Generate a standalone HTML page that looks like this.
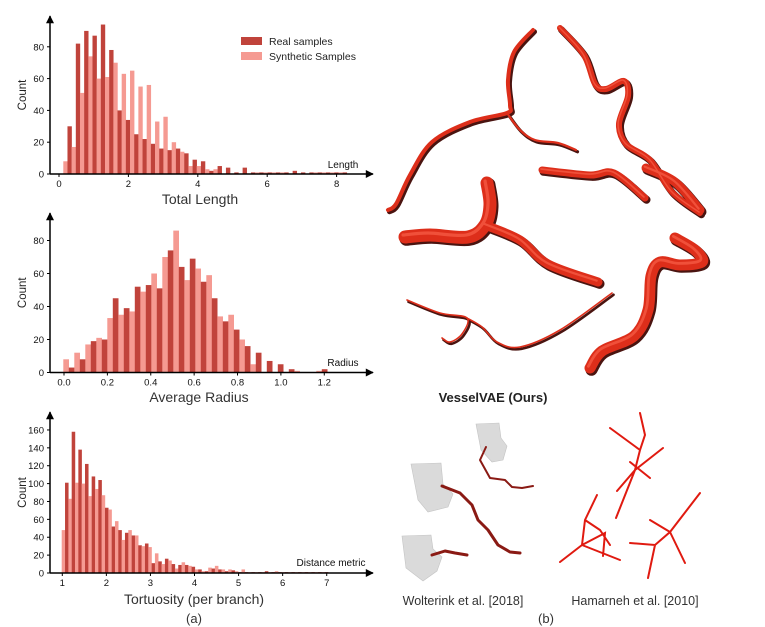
<!DOCTYPE html>
<html><head><meta charset="utf-8"><style>
html,body{margin:0;padding:0;background:#fff;}
svg{display:block;font-family:"Liberation Sans","DejaVu Sans",sans-serif;}
</style></head><body>
<svg id="s" width="765" height="627" viewBox="0 0 765 627" xmlns="http://www.w3.org/2000/svg">
<defs>
<marker id="ar" viewBox="0 0 10 10" refX="9" refY="5" markerWidth="10" markerHeight="8" orient="auto-start-reverse" markerUnits="userSpaceOnUse"><path d="M0,0 L10,5 L0,10 z" fill="#000"/></marker>
</defs>
<g id="charts"></g>
<g id="ves" fill="none" stroke-linecap="round" stroke-linejoin="round"></g>
<rect x="241" y="37" width="21" height="8" fill="#c0433b"/>
<text x="269" y="45" font-size="10.5" fill="#222">Real samples</text>
<rect x="241" y="52" width="21" height="8" fill="#f59a92"/>
<text x="269" y="60" font-size="10.5" fill="#222">Synthetic Samples</text>
<text x="200" y="204" font-size="14" text-anchor="middle" fill="#333">Total Length</text>
<text x="199" y="402" font-size="14" text-anchor="middle" fill="#333">Average Radius</text>
<text x="194" y="604" font-size="14" text-anchor="middle" fill="#333">Tortuosity (per branch)</text>
<text x="194" y="623" font-size="13" text-anchor="middle" fill="#333">(a)</text>
<text x="343" y="168" font-size="10" text-anchor="middle" fill="#111">Length</text>
<text x="343" y="366" font-size="10" text-anchor="middle" fill="#111">Radius</text>
<text x="331" y="566" font-size="10" text-anchor="middle" fill="#111">Distance metric</text>
<text x="493" y="402" font-size="13" font-weight="bold" text-anchor="middle" fill="#222">VesselVAE (Ours)</text>
<g fill="#dadada" stroke="#c4c4c4" stroke-width="0.6">
<path d="M476,424 L499,423 L501,438 L507,446 L503,460 L492,462 L481,450 Z"/>
<path d="M411,464 L441,463 L443,484 L453,494 L448,507 L428,512 L418,500 Z"/>
<path d="M402,536 L431,535 L433,549 L442,557 L437,571 L423,581 L406,568 Z"/>
</g>
<g fill="none" stroke="#8a1a14" stroke-linecap="round" stroke-linejoin="round">
<path d="M486,447 L480,460 L490,478 L505,480 L512,487 L522,488 L533,486" stroke-width="2"/>
<path d="M442,486 L460,493 L472,505 L478,520 L488,530 L498,545 L510,552 L520,553" stroke-width="3"/>
<path d="M432,555 L445,551 L455,553 L467,555" stroke-width="3"/>
</g>
<g fill="none" stroke="#e01a10" stroke-width="2" stroke-linecap="round">
<path d="M640,413 L645,435 L640,450 L635,470 L617,491 M610,428 L640,450 M663,448 L635,470 M630,462 L650,478 M635,470 L616,518"/>
<path d="M597,495 L585,520 L582,545 L560,562 M585,520 L600,530 L610,545 M582,545 L605,533 L603,556 M582,545 L620,560"/>
<path d="M700,493 L670,532 L655,545 L630,543 M655,545 L648,578 M670,532 L685,563 M670,532 L650,520"/>
</g>
<text x="463" y="605" font-size="12.5" text-anchor="middle" fill="#333">Wolterink et al. [2018]</text>
<text x="635" y="605" font-size="12.5" text-anchor="middle" fill="#333">Hamarneh et al. [2010]</text>
<text x="546" y="623" font-size="13" text-anchor="middle" fill="#333">(b)</text>
</svg>
<script>
var NS="http://www.w3.org/2000/svg",g=document.getElementById("charts");
function mk(p,t,a,txt){var e=document.createElementNS(NS,t);for(var k in a)e.setAttribute(k,a[k]);if(txt!==undefined)e.textContent=txt;p.appendChild(e);return e;}
function el(t,a,txt){return mk(g,t,a,txt);}
var R="#c0433b",S="#f59a92";
function chart(o){
 for(var i=0;i<o.v.length;i++){var h=o.v[i]*o.sy;if(h<=0)continue;
  el("rect",{x:o.x0+i*o.bw,y:o.base-h,width:o.bw+0.2,height:h,fill:(i%2==0)?S:R});}
 el("line",{x1:50,y1:o.base,x2:o.xe,y2:o.base,stroke:"#000","stroke-width":1.5,"marker-end":"url(#ar)"});
 el("line",{x1:50,y1:o.base,x2:50,y2:o.top,stroke:"#000","stroke-width":1.5,"marker-end":"url(#ar)"});
 o.yt.forEach(function(t){var y=o.base-t*o.sy;el("line",{x1:47,y1:y,x2:50,y2:y,stroke:"#000"});el("text",{x:44,y:y+3.5,"font-size":9.5,"text-anchor":"end",fill:"#111"},String(t));});
 o.xt.forEach(function(t){var x=o.xa+(t[0])*o.sx;el("line",{x1:x,y1:o.base,x2:x,y2:o.base+3,stroke:"#000"});el("text",{x:x,y:o.base+13,"font-size":9.5,"text-anchor":"middle",fill:"#111"},t[1]);});
 var cy=(o.base+o.top)/2;el("text",{x:0,y:0,"font-size":11.5,"text-anchor":"middle",fill:"#222",transform:"translate(26,"+cy+") rotate(-90)"},"Count");
}
chart({v:[8,30,17,82,51,90,74,87,60,94,61,78,70,40,63,34,65,25,55,22,56,19,33,16,36,15,20,16,14,13,5,9,5,8,3,2,3,5,0,4,0,1,0,4,0,1,1,1,1,1,1,1,1,1,0,2,0,1,0,1,1,1,1,1,1,1,1,1],
 x0:63.3,bw:4.17,base:174,sy:1.59,top:16,xe:373,yt:[0,20,40,60,80],xa:59,sx:34.7,xt:[[0,"0"],[2,"2"],[4,"4"],[6,"6"],[8,"8"]]});
chart({v:[8,3,12,8,17,19,21,20,33,45,35,39,37,52,49,53,60,51,70,74,86,64,56,69,63,55,59,45,34,31,35,26,20,16,5,12,0,7,0,5,0,2,1,0,0,0,1,2],
 x0:63.3,bw:5.5,base:372.5,sy:1.65,top:213,xe:373,yt:[0,20,40,60,80],xa:64,sx:216.9,xt:[[0,"0.0"],[0.2,"0.2"],[0.4,"0.4"],[0.6,"0.6"],[0.8,"0.8"],[1.0,"1.0"],[1.2,"1.2"]]});
chart({v:[48,101,83,158,101,138,100,122,86,108,94,104,87,73,71,52,58,48,37,45,48,42,42,31,30,33,29,11,22,13,10,16,14,10,5,9,12,9,8,7,4,4,2,2,6,5,8,4,4,2,4,3,2,1,4,1,1,1,1,1,1,2,1,1,2,1,1,1,1,1,1,1,1,1,1,1,1,1,1,1],
 x0:61.7,bw:3.33,base:573,sy:0.894,top:412,xe:373,yt:[0,20,40,60,80,100,120,140,160],xa:62.3,sx:44.07,xt:[[0,"1"],[1,"2"],[2,"3"],[3,"4"],[4,"5"],[5,"6"],[6,"7"]]});
// smooth vessels
function smooth(p){var d="M"+p[0][0]+","+p[0][1];for(var i=0;i<p.length-1;i++){var p0=p[i-1]||p[i],p1=p[i],p2=p[i+1],p3=p[i+2]||p2;
 var c1=[p1[0]+(p2[0]-p0[0])/6,p1[1]+(p2[1]-p0[1])/6],c2=[p2[0]-(p3[0]-p1[0])/6,p2[1]-(p3[1]-p1[1])/6];
 d+=" C"+c1[0]+","+c1[1]+" "+c2[0]+","+c2[1]+" "+p2[0]+","+p2[1];}return d;}
var V=[
 [[[533,30],[514,52],[508,80],[510,105],[507,113],[470,122],[432,142],[410,175],[396,204],[388,210]],4],
 [[[507,113],[520,130],[535,140],[558,143],[576,150]],2.2],
 [[[560,28],[584,55],[595,84],[606,89],[624,81],[628,96],[619,124],[626,144],[650,160],[672,192],[700,213]],6],
 [[[542,170],[590,175],[614,173],[645,198]],7],
 [[[405,237],[430,235],[468,237],[485,225],[490,205],[487,183]],13],
 [[[485,225],[520,240],[548,264],[598,282]],9],
 [[[646,168],[675,182],[700,210]],9],
 [[[407,300],[440,313],[467,318],[462,334],[450,342],[442,338]],1.6],
 [[[467,318],[482,327],[497,342],[520,347],[560,330],[612,293]],1.6],
 [[[675,238],[695,250],[702,262],[680,265],[660,262],[651,276],[648,310],[634,336],[602,351],[590,368]],11]
];
var vg=document.getElementById("ves");
V.forEach(function(v){mk(vg,"path",{d:smooth(v[0]),stroke:"#4a1410","stroke-width":v[1]+1,transform:"translate(1.5,1.8)"});});
V.forEach(function(v){mk(vg,"path",{d:smooth(v[0]),stroke:"#dd2e1a","stroke-width":v[1]});});
V.forEach(function(v){if(v[1]>5)mk(vg,"path",{d:smooth(v[0]),stroke:"#f0503a","stroke-width":v[1]*0.25,transform:"translate(-"+(v[1]*0.15)+",-"+(v[1]*0.15)+")"});});
</script>
</body></html>
